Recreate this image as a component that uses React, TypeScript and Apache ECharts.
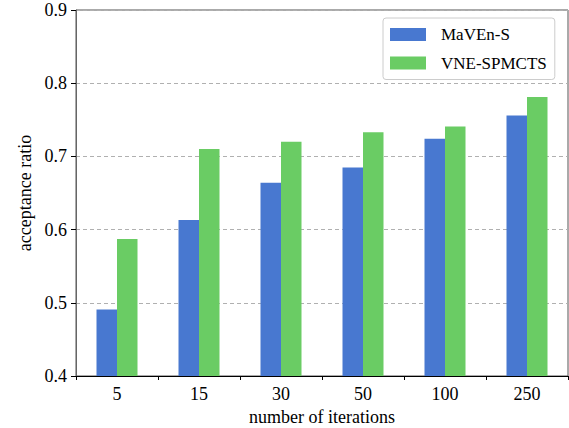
import React, { useEffect, useRef } from "react";
import * as echarts from "echarts";

const categories = ["5", "15", "30", "50", "100", "250"];
const mavenS = [0.491, 0.613, 0.664, 0.685, 0.724, 0.756];
const vneSpmcts = [0.587, 0.71, 0.72, 0.733, 0.741, 0.781];
const seriesNames = ["MaVEn-S", "VNE-SPMCTS"];
const yTicks = { min: 0.4, max: 0.9, interval: 0.1 };

const FONT = "'Liberation Serif', 'Times New Roman', serif";

export default function App() {
  const ref = useRef<HTMLDivElement>(null);
  useEffect(() => {
    if (!ref.current) return;
    const chart = echarts.init(ref.current, null, { renderer: "svg" });
    chart.setOption({
      animation: false,
      textStyle: { fontFamily: FONT },
      grid: {
        left: 76,
        right: 1,
        top: 10,
        bottom: 52,
        containLabel: false,
        outerBoundsMode: "none",
        show: true,
        borderColor: "#555",
        borderWidth: 1,
        backgroundColor: "transparent",
      },
      legend: {
        orient: "vertical",
        left: 383,
        top: 18,
        padding: [8, 8, 8, 7],
        itemWidth: 36,
        itemHeight: 13,
        itemGap: 11.5,
        borderColor: "#ccc",
        borderWidth: 1,
        borderRadius: 3,
        backgroundColor: "#fff",
        icon: "rect",
        textStyle: { fontFamily: FONT, fontSize: 17, color: "#000", padding: [0, 0, 0, 10] },
        data: seriesNames,
      },
      xAxis: [
        {
          type: "category",
          data: categories,
          position: "bottom",
          boundaryGap: true,
          name: "number of iterations",
          nameLocation: "middle",
          nameGap: 32,
          nameTextStyle: { fontFamily: FONT, fontSize: 18, color: "#000" },
          axisLine: { show: true, onZero: false, lineStyle: { color: "#000", width: 1 } },
          axisTick: { show: false },
          axisLabel: { fontFamily: FONT, fontSize: 18, color: "#000", margin: 9 },
          splitLine: { show: false },
          z: 3,
        },
        {
          type: "value",
          position: "bottom",
          min: -0.375,
          max: 5.625,
          interval: 1,
          axisLine: { show: false, onZero: false },
          axisTick: { show: true, length: 4, lineStyle: { color: "#000", width: 1 } },
          axisLabel: { show: false },
          splitLine: { show: false },
        },
      ],
      yAxis: {
        type: "value",
        min: yTicks.min,
        max: yTicks.max,
        interval: yTicks.interval,
        name: "acceptance ratio",
        nameLocation: "middle",
        nameGap: 30,
        nameTextStyle: { fontFamily: FONT, fontSize: 18, color: "#000" },
        axisLine: { show: true, onZero: false, lineStyle: { color: "#666", width: 1 } },
        axisTick: { show: true, length: 5, lineStyle: { color: "#000" } },
        axisLabel: {
          fontFamily: FONT,
          fontSize: 18,
          color: "#000",
          margin: 9,
          formatter: (v: number) => v.toFixed(1),
        },
        splitLine: { show: true, lineStyle: { color: "#b0b0b0", type: [4, 3], width: 1 } },
      },
      series: [
        {
          name: seriesNames[0],
          type: "bar",
          xAxisIndex: 0,
          data: mavenS,
          barWidth: "25%",
          barGap: "0%",
          itemStyle: { color: "#4878d0" },
        },
        {
          name: seriesNames[1],
          type: "bar",
          xAxisIndex: 0,
          data: vneSpmcts,
          barWidth: "25%",
          barGap: "0%",
          itemStyle: { color: "#6acc64" },
        },
      ],
    });
    return () => chart.dispose();
  }, []);
  return <div ref={ref} style={{ width: 569, height: 428, position: "absolute", left: 0, top: 0 }} />;
}
